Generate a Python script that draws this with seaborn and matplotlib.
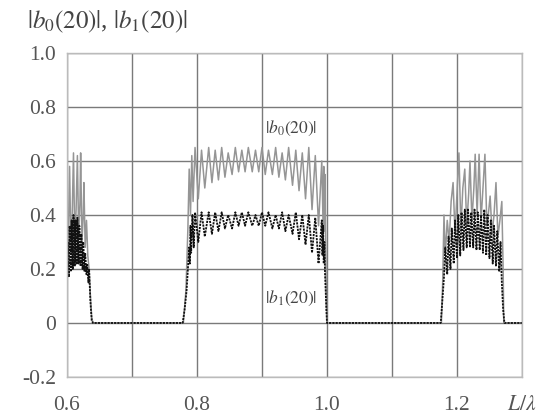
import numpy as np
import pandas as pd
import matplotlib
matplotlib.use("Agg")
import matplotlib.pyplot as plt
import seaborn as sns

# ---- data ----
b0_left_x = [0.600, 0.602, 0.604, 0.606, 0.608, 0.610, 0.612, 0.614, 0.616, 0.618, 0.620,
             0.621, 0.623, 0.625, 0.626, 0.628, 0.630, 0.632, 0.634, 0.636, 0.638, 0.640]
b0_left_y = [0.22, 0.30, 0.58, 0.28, 0.40, 0.63, 0.30, 0.42, 0.62, 0.32, 0.45,
             0.63, 0.30, 0.40, 0.52, 0.28, 0.38, 0.25, 0.20, 0.10, 0.02, 0.0]

b0_mid_x = [0.779, 0.783, 0.786, 0.788, 0.790, 0.792, 0.794,
            0.797, 0.802, 0.807, 0.812, 0.818, 0.823, 0.828, 0.833, 0.838, 0.843,
            0.848, 0.854, 0.859, 0.864, 0.869, 0.874, 0.879, 0.885, 0.890, 0.895,
            0.900, 0.905, 0.910, 0.916, 0.921, 0.926, 0.931, 0.936, 0.941, 0.947,
            0.952, 0.957, 0.962, 0.967, 0.972, 0.977, 0.982, 0.987, 0.992,
            0.994, 0.995, 0.996, 0.997, 0.998, 0.999, 1.000]
b0_mid_y = [0.0, 0.12, 0.35, 0.57, 0.40, 0.62, 0.45,
            0.65, 0.46, 0.64, 0.50, 0.65, 0.52, 0.64, 0.53, 0.65, 0.54,
            0.63, 0.55, 0.65, 0.56, 0.64, 0.56, 0.65, 0.56, 0.64, 0.56,
            0.65, 0.55, 0.64, 0.55, 0.65, 0.54, 0.63, 0.53, 0.65, 0.51,
            0.64, 0.49, 0.63, 0.46, 0.65, 0.42, 0.62, 0.36, 0.60,
            0.36, 0.58, 0.34, 0.55, 0.30, 0.10, 0.0]

b0_right_x = [1.176, 1.178, 1.180, 1.182, 1.185, 1.188, 1.191, 1.194, 1.197, 1.200, 1.203,
              1.206, 1.209, 1.212, 1.215, 1.218, 1.220, 1.223, 1.226, 1.228, 1.231, 1.234,
              1.237, 1.240, 1.243, 1.246, 1.249, 1.251, 1.254, 1.257, 1.260, 1.263, 1.266,
              1.269, 1.271, 1.272, 1.300]
b0_right_y = [0.0, 0.15, 0.40, 0.25, 0.38, 0.30, 0.45, 0.52, 0.33, 0.48, 0.63,
              0.35, 0.50, 0.57, 0.36, 0.48, 0.60, 0.38, 0.50, 0.625, 0.40, 0.625,
              0.38, 0.50, 0.625, 0.36, 0.42, 0.47, 0.33, 0.40, 0.52, 0.32, 0.38,
              0.45, 0.20, 0.0, 0.0]

b1_left_x = [0.600, 0.601, 0.603, 0.604, 0.606, 0.607, 0.609, 0.610, 0.612, 0.613, 0.615,
             0.616, 0.618, 0.619, 0.621, 0.622, 0.624, 0.625, 0.627, 0.628, 0.630, 0.631,
             0.633, 0.634, 0.636, 0.638, 0.640]
b1_left_y = [0.13, 0.30, 0.17, 0.36, 0.19, 0.38, 0.20, 0.40, 0.21, 0.38, 0.22,
             0.39, 0.22, 0.36, 0.21, 0.33, 0.20, 0.30, 0.19, 0.26, 0.18, 0.22,
             0.15, 0.20, 0.08, 0.01, 0.0]

b1_mid_x = [0.778, 0.781, 0.784, 0.786, 0.788, 0.789, 0.790, 0.791, 0.793, 0.795,
            0.797, 0.802, 0.807, 0.812, 0.818, 0.823, 0.828, 0.833, 0.838, 0.843,
            0.848, 0.854, 0.859, 0.864, 0.869, 0.874, 0.879, 0.885, 0.890, 0.895,
            0.900, 0.905, 0.910, 0.916, 0.921, 0.926, 0.931, 0.936, 0.941, 0.947,
            0.952, 0.957, 0.962, 0.967, 0.972, 0.977, 0.982, 0.987, 0.992,
            0.993, 0.994, 0.995, 0.996, 0.997, 0.998, 0.999, 1.000]
b1_mid_y = [0.0, 0.05, 0.12, 0.20, 0.28, 0.22, 0.36, 0.26, 0.40, 0.28,
            0.41, 0.30, 0.41, 0.32, 0.41, 0.33, 0.41, 0.34, 0.41, 0.35,
            0.40, 0.35, 0.41, 0.36, 0.41, 0.36, 0.41, 0.36, 0.40, 0.36,
            0.41, 0.36, 0.41, 0.35, 0.40, 0.35, 0.41, 0.34, 0.40, 0.33,
            0.41, 0.31, 0.40, 0.29, 0.40, 0.26, 0.39, 0.22, 0.38,
            0.25, 0.36, 0.22, 0.30, 0.18, 0.12, 0.05, 0.0]

b1_right_x = [1.175, 1.178, 1.180, 1.182, 1.185, 1.187, 1.190, 1.192, 1.195, 1.197, 1.200,
              1.202, 1.205, 1.207, 1.210, 1.212, 1.215, 1.217, 1.220, 1.222, 1.225, 1.227,
              1.230, 1.232, 1.235, 1.237, 1.240, 1.242, 1.245, 1.247, 1.250, 1.252, 1.255,
              1.257, 1.260, 1.262, 1.265, 1.267, 1.269, 1.271, 1.273, 1.300]
b1_right_y = [0.0, 0.10, 0.17, 0.28, 0.18, 0.32, 0.20, 0.35, 0.22, 0.38, 0.24,
              0.40, 0.25, 0.41, 0.27, 0.42, 0.28, 0.42, 0.28, 0.41, 0.28, 0.42,
              0.27, 0.41, 0.27, 0.40, 0.26, 0.42, 0.25, 0.40, 0.24, 0.38, 0.22,
              0.36, 0.21, 0.34, 0.19, 0.30, 0.15, 0.05, 0.0, 0.0]

x_ticks = [0.6, 0.8, 1.0, 1.2, 1.3]
x_ticklabels = ["0.6", "0.8", "1.0", "1.2", "$L/\\lambda$"]
y_ticks = [-0.2, 0, 0.2, 0.4, 0.6, 0.8, 1.0]
y_ticklabels = ["-0.2", "0", "0.2", "0.4", "0.6", "0.8", "1.0"]

b0 = pd.DataFrame({"x": b0_left_x + b0_mid_x + b0_right_x,
                   "y": b0_left_y + b0_mid_y + b0_right_y})
b1 = pd.DataFrame({"x": b1_left_x + b1_mid_x + b1_right_x,
                   "y": b1_left_y + b1_mid_y + b1_right_y})

sns.set_theme(style="white")
plt.rcParams["font.family"] = ["Liberation Serif", "DejaVu Serif"]
plt.rcParams["mathtext.fontset"] = "stix"

fig = plt.figure(figsize=(5.46, 4.16), dpi=100)
ax = fig.add_axes([0.1227, 0.0938, 0.9560 - 0.1227, 0.8726 - 0.0938])

sns.lineplot(data=b0, x="x", y="y", sort=False, estimator=None, ax=ax,
             color="#959595", linewidth=1.1)
sns.lineplot(data=b1, x="x", y="y", sort=False, estimator=None, ax=ax,
             color="#111111", linewidth=1.3, linestyle=(0, (1.2, 0.6)))

ax.set_xlim(0.6, 1.3)
ax.set_ylim(-0.2, 1.0)
ax.set_xticks(np.arange(0.6, 1.301, 0.1), minor=True)
ax.set_xticks(x_ticks)
ax.set_xticklabels(x_ticklabels)
ax.set_yticks(y_ticks)
ax.set_yticklabels(y_ticklabels)
ax.grid(True, which="both", axis="x", color="#7a7a7a", linewidth=1.0)
ax.grid(True, which="major", axis="y", color="#7a7a7a", linewidth=1.0)
ax.set_axisbelow(True)
ax.tick_params(which="both", length=0, labelsize=15.5, labelcolor="#555555")
ax.tick_params(axis="x", pad=14)
ax.tick_params(axis="y", pad=8)
for s in ax.spines.values():
    s.set_color("#bbbbbb")
    s.set_linewidth(1.0)
ax.set_xlabel("")
ax.set_ylabel("")

fig.text(27 / 546, 1 - 22 / 416, r"$|b_0(20)|$, $|b_1(20)|$", fontsize=18,
         color="#444444", va="center", ha="left")
ax.text(0.905, 0.72, r"$|b_0(20)|$", fontsize=12.5, color="#444444",
        va="center", ha="left")
ax.text(0.905, 0.09, r"$|b_1(20)|$", fontsize=12.5, color="#444444",
        va="center", ha="left")

fig.savefig("out.png", dpi=100)
